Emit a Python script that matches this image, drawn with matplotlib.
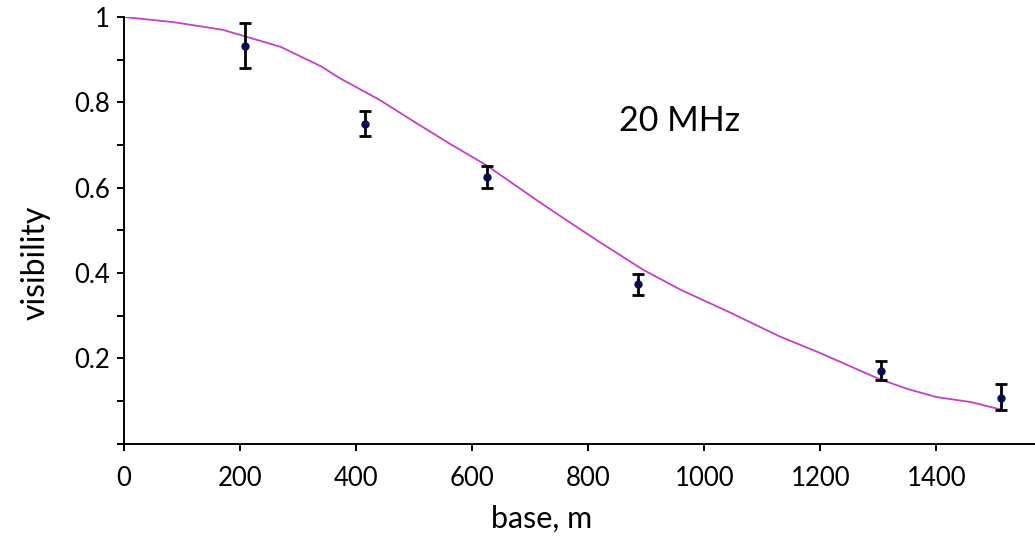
import numpy
import matplotlib

matplotlib.use("Agg")
import matplotlib.pyplot
from matplotlib.ticker import MultipleLocator, FuncFormatter

matplotlib.pyplot.rcParams.update({
    "font.family": ["Lato", "DejaVu Sans"],
    "font.size": 18,
})

# measured visibility at each base
base_m = [208, 415, 625, 886, 1305, 1511]
visibility = [0.932, 0.750, 0.624, 0.373, 0.171, 0.106]
err_low = [0.052, 0.030, 0.024, 0.025, 0.022, 0.027]
err_high = [0.053, 0.030, 0.027, 0.024, 0.022, 0.033]

# model curve
curve_base = [0, 85, 170, 210, 270, 340, 370, 440, 490, 560, 625, 715, 750, 820,
              895, 960, 1040, 1130, 1200, 1300, 1350, 1400, 1460, 1510]
curve_vis = [1.0, 0.988, 0.970, 0.954, 0.930, 0.884, 0.858, 0.806, 0.763, 0.704, 0.652,
             0.567, 0.535, 0.472, 0.407, 0.360, 0.310, 0.251, 0.212, 0.152, 0.128,
             0.109, 0.097, 0.080]

x_ticks = [0, 200, 400, 600, 800, 1000, 1200, 1400]

fig = matplotlib.pyplot.figure(figsize=(10.35, 5.43), dpi=100)
ax = fig.add_axes([124 / 1035, 1 - 443.5 / 543, 1 - 124 / 1035, (443.5 - 17) / 543])

ax.plot(curve_base, curve_vis, color="#c23fc6", linewidth=1.3, zorder=2)
ax.errorbar(base_m, visibility, yerr=[err_low, err_high], fmt="o", color="#0b0b55",
            markersize=5, ecolor="black", elinewidth=2.0, capsize=4.5, capthick=2.0, zorder=3)

ax.text((680 - 124) / 911, 0.756, "20 MHz", transform=ax.transAxes,
        fontsize=24.5, ha="center", va="center")

ax.set_xlim(0, 1570)
ax.set_ylim(0, 1)
ax.set_xticks(x_ticks)
ax.yaxis.set_major_locator(MultipleLocator(0.1))


def y_label(v, pos):
    k = int(round(v * 10))
    if k == 0 or k % 2:
        return ""
    if k == 10:
        return "1"
    return f"{v:.1f}"


ax.yaxis.set_major_formatter(FuncFormatter(y_label))

for side in ["top", "right"]:
    ax.spines[side].set_visible(False)
for side in ["left", "bottom"]:
    ax.spines[side].set_linewidth(1.4)
    ax.spines[side].set_color("black")

ax.tick_params(axis="both", direction="out", length=5, width=1.4, color="black")
ax.tick_params(axis="x", pad=11, labelsize=18.5)
ax.tick_params(axis="y", pad=5, labelsize=18.5)

ax.set_xlabel("base, m", fontsize=22)
ax.set_ylabel("visibility", fontsize=23)
ax.xaxis.set_label_coords((542 - 124) / 911, -0.144)
ax.yaxis.set_label_coords(-0.08, 0.423)

fig.savefig("out.png", dpi=100)
